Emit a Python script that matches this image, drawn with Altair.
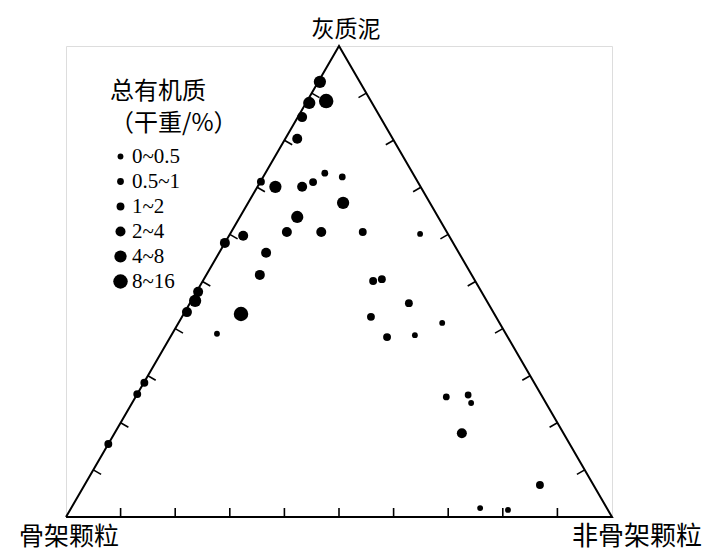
import altair as alt
import pandas as pd

# Ternary compositions (%) of samples: 灰质泥 (top), 非骨架颗粒 (right), 骨架颗粒 (left)
mud = [92.4, 88.3, 87.9, 84.9, 80.3, 73.0, 72.2, 71.1, 70.1, 70.1, 71.2, 66.7, 63.7,
       60.5, 60.5, 60.5, 60.1, 59.7, 58.2, 56.1, 51.4, 50.1, 50.5, 47.8, 45.9, 43.5,
       43.1, 45.4, 42.5, 41.2, 38.9, 38.2, 38.6, 25.5, 25.9, 24.2, 17.8, 6.8, 1.9,
       1.5, 28.5, 26.1, 15.5]
nonframe = [0.3, 3.5, 0.6, 0.8, 2.2, 10.9, 14.5, 9.7, 8.2, 3.3, 0.1, 17.4, 10.5,
            10.2, 16.5, 24.1, 34.8, 2.6, 0.0, 8.6, 9.8, 31.2, 32.6, 0.3, 0.7, 0.4,
            10.5, 40.1, 34.6, 48.3, 8.2, 39.7, 44.6, 56.9, 60.7, 62.1, 63.6, 83.4,
            74.9, 80.2, 0.1, 0.0, 0.0]
frame = [round(100 - m - n, 1) for m, n in zip(mud, nonframe)]
toc_class = ["4~8", "8~16", "4~8", "2~4", "2~4", "0.5~1", "0.5~1", "1~2", "2~4",
             "4~8", "1~2", "4~8", "4~8", "2~4", "2~4", "1~2", "0~0.5", "2~4", "2~4",
             "2~4", "2~4", "1~2", "1~2", "2~4", "4~8", "2~4", "8~16", "1~2", "1~2",
             "0~0.5", "0~0.5", "1~2", "0~0.5", "0.5~1", "0.5~1", "0~0.5", "2~4",
             "1~2", "0~0.5", "0~0.5", "1~2", "1~2", "1~2"]

classes = ["0~0.5", "0.5~1", "1~2", "2~4", "4~8", "8~16"]
class_sizes = [34, 46, 62, 100, 150, 210]

tick_values = [10, 20, 30, 40, 50, 60, 70, 80, 90]
vertex_names = ["骨架颗粒", "非骨架颗粒", "灰质泥"]

samples = pd.DataFrame({"mud": mud, "nonframe": nonframe, "frame": frame, "toc": toc_class})

W, H = 546, 471
xs = alt.Scale(domain=[0, 100], range=[0, W], nice=False, zero=False)
ys = alt.Scale(domain=[0, 100], range=[H, 0], nice=False, zero=False)
noax = None

# Triangle outline
tri = pd.DataFrame({"mud": [0, 0, 100, 0], "nonframe": [0, 100, 0, 0], "o": [0, 1, 2, 3]})
outline = alt.Chart(tri).transform_calculate(
    X="datum.nonframe + datum.mud/2", Y="datum.mud"
).mark_line(color="black", strokeWidth=2).encode(
    x=alt.X("X:Q", scale=xs, axis=noax),
    y=alt.Y("Y:Q", scale=ys, axis=noax),
    order="o:Q",
)

ticks_df = pd.DataFrame({"v": tick_values})
L = 9.0  # tick length in px
bottom_ticks = alt.Chart(ticks_df).transform_calculate(
    X="datum.v", Y="0", X2="datum.v", Y2=f"{L}/{H/100}"
).mark_rule(color="black", strokeWidth=1.6).encode(
    x=alt.X("X:Q", scale=xs, axis=noax), y=alt.Y("Y:Q", scale=ys, axis=noax),
    x2="X2:Q", y2="Y2:Q")
left_ticks = alt.Chart(ticks_df).transform_calculate(
    X="datum.v/2", Y="datum.v",
    X2=f"datum.v/2 + 0.866*{L}/{W/100}", Y2=f"datum.v - 0.5*{L}/{H/100}"
).mark_rule(color="black", strokeWidth=1.6).encode(
    x=alt.X("X:Q", scale=xs, axis=noax), y=alt.Y("Y:Q", scale=ys, axis=noax),
    x2="X2:Q", y2="Y2:Q")
right_ticks = alt.Chart(ticks_df).transform_calculate(
    X="100 - datum.v/2", Y="datum.v",
    X2=f"100 - datum.v/2 - 0.866*{L}/{W/100}", Y2=f"datum.v - 0.5*{L}/{H/100}"
).mark_rule(color="black", strokeWidth=1.6).encode(
    x=alt.X("X:Q", scale=xs, axis=noax), y=alt.Y("Y:Q", scale=ys, axis=noax),
    x2="X2:Q", y2="Y2:Q")

pts = alt.Chart(samples).transform_calculate(
    X="datum.nonframe + datum.mud/2", Y="datum.mud"
).mark_circle(color="black", opacity=1).encode(
    x=alt.X("X:Q", scale=xs, axis=noax),
    y=alt.Y("Y:Q", scale=ys, axis=noax),
    size=alt.Size("toc:O", scale=alt.Scale(type="ordinal", domain=classes, range=class_sizes),
                  legend=alt.Legend(
                      title=["总有机质", "（干重/%）"], orient="none", legendX=44, legendY=34,
                      titleFont="Noto Sans CJK SC", titleFontSize=24, titleFontWeight="normal",
                      titleLineHeight=32, titlePadding=10, titleColor="black",
                      labelFont="Liberation Serif", labelFontSize=21, labelColor="black",
                      symbolFillColor="black", symbolStrokeWidth=0, symbolType="circle",
                      rowPadding=3, labelOffset=1)),
)

lab_df = pd.DataFrame({"name": vertex_names, "mud": [0, 0, 100], "nonframe": [0, 100, 0]})

def vlabel(i, dx, dy, fs):
    return alt.Chart(lab_df.iloc[[i]]).transform_calculate(
        X="datum.nonframe + datum.mud/2", Y="datum.mud"
    ).mark_text(font="Noto Sans CJK SC", fontSize=fs, color="black",
                baseline="middle", dx=dx, dy=dy).encode(
        x=alt.X("X:Q", scale=xs, axis=noax), y=alt.Y("Y:Q", scale=ys, axis=noax),
        text="name:N")

chart = alt.layer(
    outline, bottom_ticks, left_ticks, right_ticks, pts,
    vlabel(0, 3, 20, 25), vlabel(1, 25, 20, 26), vlabel(2, 7, -16, 23),
).properties(
    width=W, height=H,
    padding={"left": 66, "top": 46, "right": 96, "bottom": 41},
    autosize=alt.AutoSizeParams(type="none"),
).configure_view(stroke=None).configure(background="white")

chart.save("out.html", embed_options={"renderer": "svg", "actions": False})
